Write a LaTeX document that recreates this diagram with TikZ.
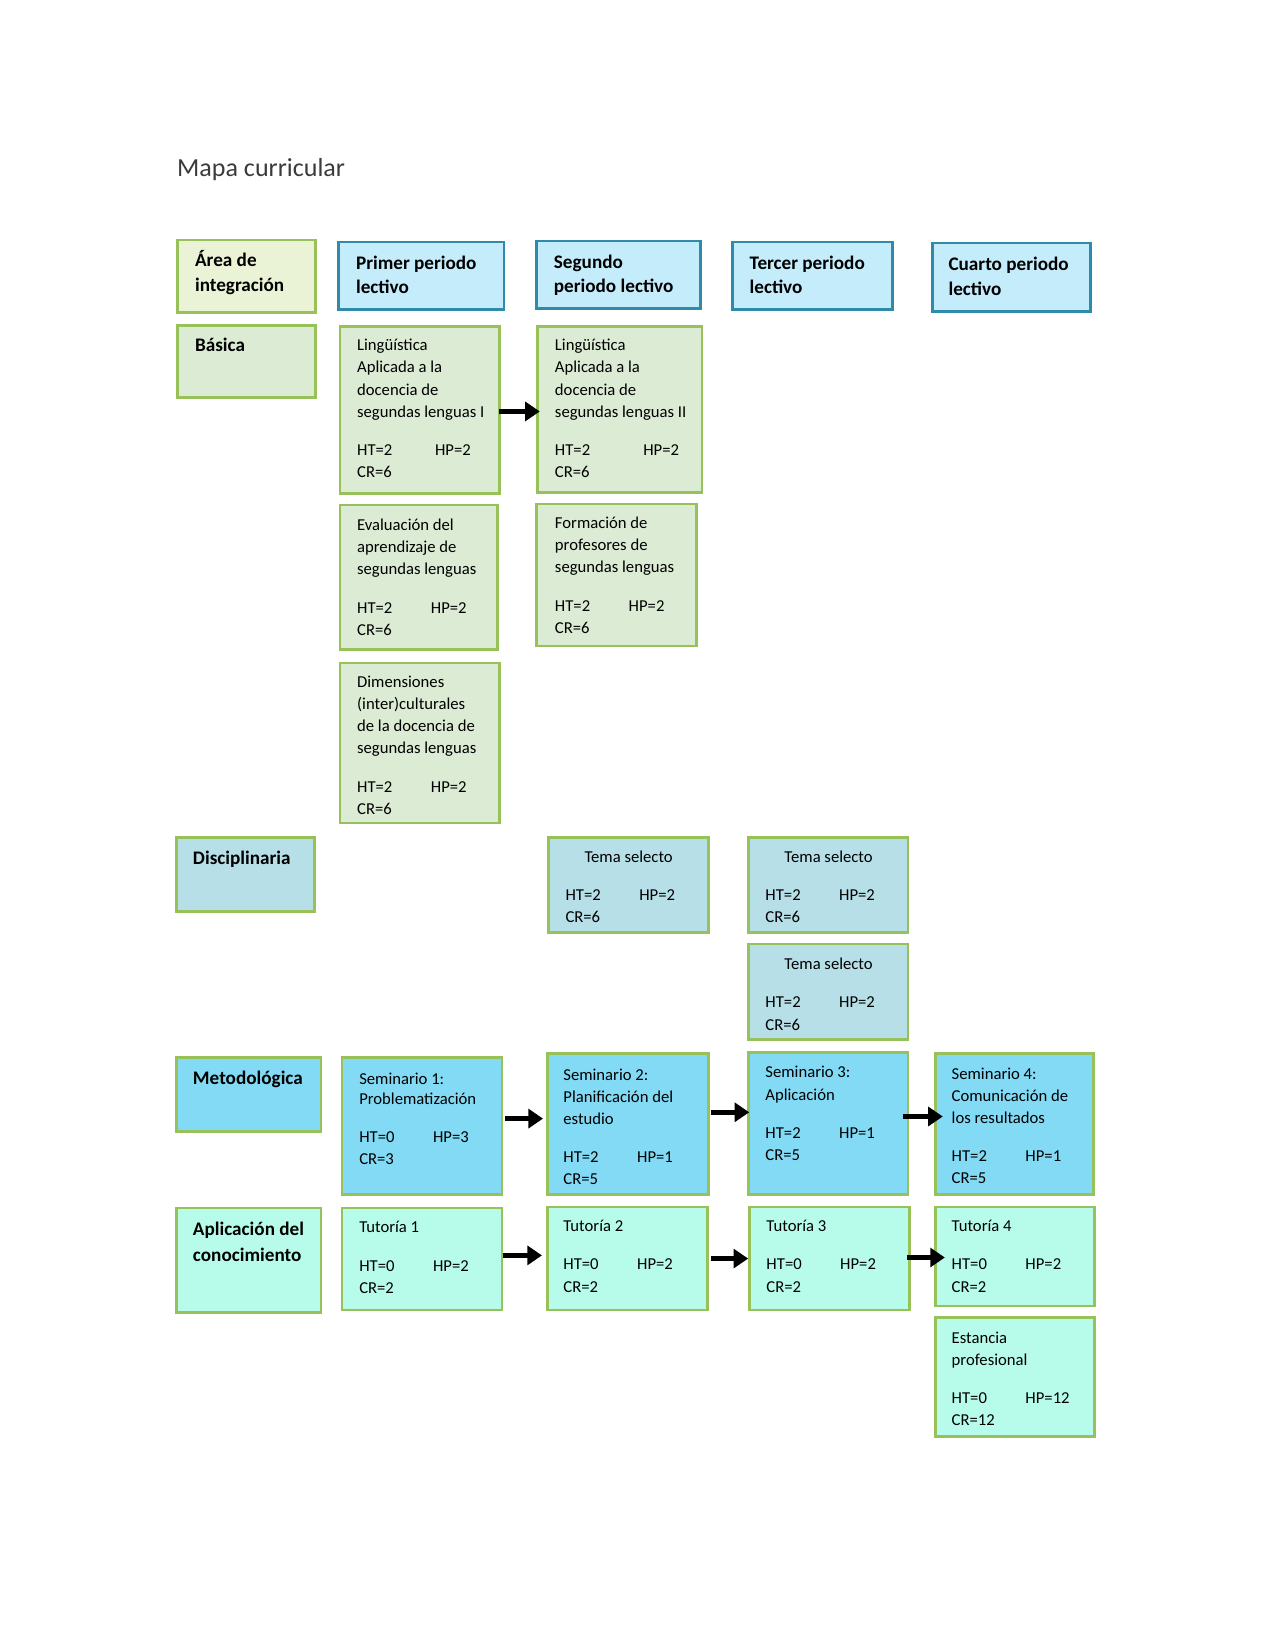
\documentclass[tikz,border=0pt]{standalone}
\usepackage{fontspec}
\setmainfont{Carlito}
\usetikzlibrary{arrows.meta}
\definecolor{grn}{HTML}{98C15A}
\definecolor{areaF}{HTML}{EBF3D7}
\definecolor{basF}{HTML}{DCEBD4}
\definecolor{hdrF}{HTML}{C4ECFA}
\definecolor{hdrD}{HTML}{2F8BAA}
\definecolor{disF}{HTML}{B7DFE8}
\definecolor{metF}{HTML}{82DAF5}
\definecolor{aplF}{HTML}{B7FCEA}
\definecolor{titlegray}{HTML}{3B3B3B}
\tikzset{
  box/.style={draw=grn, line width=1.3pt, inner sep=0pt, outer sep=0pt},
  areabox/.style={box, fill=areaF},
  basbox/.style={box, fill=basF},
  hdrbox/.style={box, draw=hdrD, fill=hdrF},
  disbox/.style={box, fill=disF},
  metbox/.style={box, fill=metF},
  aplbox/.style={box, fill=aplF},
  bodytxt/.style={inner sep=0pt, align=left, anchor=north west, font=\fontsize{8}{10.6}\selectfont},
  boldtxt/.style={inner sep=0pt, align=left, anchor=north west, font=\fontsize{9.2}{11.6}\selectfont\bfseries},
  arr/.style={line width=2.5pt, -{Triangle[length=7pt,width=9pt]}},
}
% box: name, x1, y1, x2, y2, style
\newcommand\cbox[6]{\node[#6, anchor=north west, minimum width={(#4-#2)*0.505pt}, minimum height={(#5-#3)*0.505pt}] (#1) at (#2,#3) {};}
% text: style, name, x, first baseline y, content
\newcommand\tnode[5]{\node[#1, yshift=11pt] (#2) at (#3,#4) {\rule{0pt}{11pt}#5};}
\newcommand\hthp[3]{\makebox[#1][l]{HT=#2}HP=#3}
\newcommand\gapl{\\[7.8pt]}
\begin{document}
\begin{tikzpicture}[x=0.505pt,y=-0.505pt]
\useasboundingbox (0,0) rectangle (1212,1568);

\node[anchor=base west, inner sep=0pt, font=\fontsize{12.5}{15}\selectfont, text=titlegray] (title) at (168,168) {Mapa curricular};

% header row
\cbox{area}{169}{228}{300}{297}{areabox}
\cbox{h1}{322}{230}{479}{294}{hdrbox}
\cbox{h2}{510}{229}{666}{293}{hdrbox}
\cbox{h3}{696}{230}{848}{294}{hdrbox}
\cbox{h4}{886}{231}{1036}{296}{hdrbox}
\tnode{boldtxt}{areat}{185}{253}{Área de\\[0.5pt]integración}
\tnode{boldtxt}{h1t}{338}{256}{Primer periodo\\lectivo}
\tnode{boldtxt}{h2t}{526}{255}{Segundo\\periodo lectivo}
\tnode{boldtxt}{h3t}{712}{256}{Tercer periodo\\lectivo}
\tnode{boldtxt}{h4t}{901}{257}{Cuarto periodo\\lectivo}

% Basica
\cbox{bas}{169}{309}{300}{378}{basbox}
\tnode{boldtxt}{bast}{185}{334}{Básica}
\cbox{l1}{323}{310}{475}{469}{basbox}
\cbox{l2}{511}{310}{667}{468}{basbox}
\cbox{ev}{323}{480}{473}{617}{basbox}
\cbox{fo}{510}{479}{662}{614}{basbox}
\cbox{di}{323}{630}{475}{782}{basbox}
\tnode{bodytxt}{l1t}{339}{333}{Lingüística\\Aplicada a la\\docencia de\\segundas lenguas I\gapl\hthp{37.4pt}{2}{2}\\CR=6}
\tnode{bodytxt}{l2t}{527}{333}{Lingüística\\Aplicada a la\\docencia de\\segundas lenguas II\gapl\hthp{42.4pt}{2}{2}\\CR=6}
\tnode{bodytxt}{evt}{339}{504}{Evaluación del\\aprendizaje de\\segundas lenguas\gapl\hthp{35.4pt}{2}{2}\\CR=6}
\tnode{bodytxt}{fot}{527}{502}{Formación de\\profesores de\\segundas lenguas\gapl\hthp{35.4pt}{2}{2}\\CR=6}
\tnode{bodytxt}{dit}{339}{653}{Dimensiones\\(inter)culturales\\de la docencia de\\segundas lenguas\gapl\hthp{35.4pt}{2}{2}\\CR=6}

% Disciplinaria
\cbox{dis}{168}{796}{299}{866}{disbox}
\tnode{boldtxt}{dist}{183}{821}{Disciplinaria}
\cbox{t1}{521}{796}{673}{886}{disbox}
\cbox{t2}{711}{796}{863}{886}{disbox}
\cbox{t3}{711}{897}{863}{988}{disbox}
\tnode{bodytxt}{t1t}{537}{819}{\makebox[60.6pt][c]{Tema selecto}\gapl\hthp{35.4pt}{2}{2}\\CR=6}
\tnode{bodytxt}{t2t}{727}{819}{\makebox[60.6pt][c]{Tema selecto}\gapl\hthp{35.4pt}{2}{2}\\CR=6}
\tnode{bodytxt}{t3t}{727}{921}{\makebox[60.6pt][c]{Tema selecto}\gapl\hthp{35.4pt}{2}{2}\\CR=6}

% Metodologica
\cbox{met}{168}{1005}{305}{1075}{metbox}
\tnode{boldtxt}{mett}{183}{1030}{Metodológica}
\cbox{s1}{325}{1005}{477}{1135}{metbox}
\cbox{s2}{520}{1001}{673}{1135}{metbox}
\cbox{s3}{711}{1000}{863}{1135}{metbox}
\cbox{s4}{889}{1001}{1039}{1135}{metbox}
\tnode{bodytxt}{s1t}{341}{1030}{Seminario 1:\\[-1pt]Problematización\gapl\hthp{35.4pt}{0}{3}\\CR=3}
\tnode{bodytxt}{s2t}{535}{1026}{Seminario 2:\\Planificación del\\estudio\gapl\hthp{35.4pt}{2}{1}\\CR=5}
\tnode{bodytxt}{s3t}{727}{1024}{Seminario 3:\\Aplicación\gapl\hthp{35.4pt}{2}{1}\\CR=5}
\tnode{bodytxt}{s4t}{904}{1025}{Seminario 4:\\Comunicación de\\los resultados\gapl\hthp{35.4pt}{2}{1}\\CR=5}

% Aplicacion
\cbox{apl}{168}{1148}{305}{1247}{aplbox}
\tnode{boldtxt}{aplt}{183}{1174}{Aplicación del\\[0.5pt]conocimiento}
\cbox{u1}{325}{1148}{477}{1245}{aplbox}
\cbox{u2}{520}{1147}{672}{1245}{aplbox}
\cbox{u3}{712}{1147}{864}{1245}{aplbox}
\cbox{u4}{889}{1147}{1040}{1241}{aplbox}
\cbox{es}{889}{1252}{1040}{1365}{aplbox}
\tnode{bodytxt}{u1t}{341}{1171}{Tutoría 1\gapl\hthp{35.4pt}{0}{2}\\CR=2}
\tnode{bodytxt}{u2t}{535}{1170}{Tutoría 2\gapl\hthp{35.4pt}{0}{2}\\CR=2}
\tnode{bodytxt}{u3t}{728}{1170}{Tutoría 3\gapl\hthp{35.4pt}{0}{2}\\CR=2}
\tnode{bodytxt}{u4t}{904}{1170}{Tutoría 4\gapl\hthp{35.4pt}{0}{2}\\CR=2}
\tnode{bodytxt}{est}{904}{1276}{Estancia\\profesional\gapl\hthp{35.4pt}{0}{12}\\CR=12}

% arrows
\draw[arr, shorten <=-0.5pt, shorten >=-1pt] (l1.east |- 0,391) -- (l2.west |- 0,391);
\draw[arr, shorten <=1.5pt, shorten >=2pt] (s1.east |- 0,1063) -- (s2.west |- 0,1063);
\draw[arr, shorten <=1.5pt, shorten >=-0.5pt] (s2.east |- 0,1057) -- (s3.west |- 0,1057);
\draw[arr, shorten <=-2.5pt, shorten >=-3.5pt] (s3.east |- 0,1061) -- (s4.west |- 0,1061);
\draw[arr, shorten <=0.5pt, shorten >=2.5pt] (u1.east |- 0,1193) -- (u2.west |- 0,1193);
\draw[arr, shorten <=2pt, shorten >=0.5pt] (u2.east |- 0,1196) -- (u3.west |- 0,1196);
\draw[arr, shorten <=-1pt, shorten >=-4.5pt] (u3.east |- 0,1195) -- (u4.west |- 0,1195);
\end{tikzpicture}
\end{document}
